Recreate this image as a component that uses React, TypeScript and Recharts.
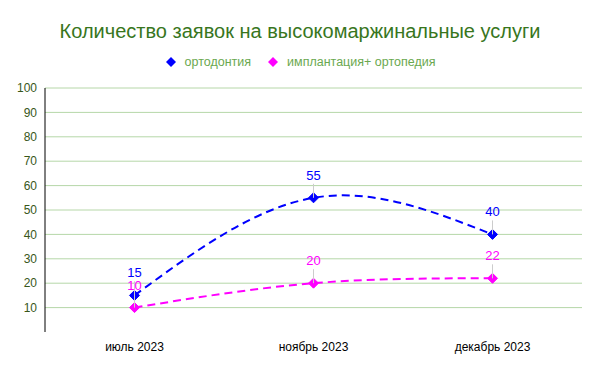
import React from "react";
import { LineChart, Line, XAxis, YAxis, CartesianGrid, LabelList } from "recharts";

const categories = ["июль 2023", "ноябрь 2023", "декабрь 2023"];
const orthodontics = [15, 55, 40];
const implantation = [10, 20, 22];
const yTicks = [10, 20, 30, 40, 50, 60, 70, 80, 90, 100];

const data = categories.map((c, i) => ({
  month: c,
  ortho: orthodontics[i],
  impl: implantation[i],
}));

const BLUE = "#0000ff";
const PINK = "#ff00ff";
const FONT = "'Liberation Sans', Arial, sans-serif";

const Diamond = (color: string) => (props: any) => {
  const { cx, cy } = props;
  if (cx == null || cy == null) return null;
  const r = 5;
  return (
    <polygon
      key={`d-${cx}-${cy}`}
      points={`${cx},${cy - r} ${cx + r},${cy} ${cx},${cy + r} ${cx - r},${cy}`}
      fill={color}
      stroke={color}
    />
  );
};

const PointLabel = (color: string) => (props: any) => {
  const { x, y, value } = props;
  return (
    <g>
      <line x1={x} y1={y - 14} x2={x} y2={y} stroke="#cccccc" strokeWidth={1} />
      <text
        x={x}
        y={y - 18}
        textAnchor="middle"
        fill={color}
        fontSize={13}
        fontFamily={FONT}
      >
        {value}
      </text>
    </g>
  );
};

const LegendItem = ({ color, label }: { color: string; label: string }) => (
  <span style={{ display: "inline-flex", alignItems: "center", margin: "0 8px" }}>
    <svg width={12} height={12} style={{ marginRight: 8 }}>
      <polygon points="6,1 11,6 6,11 1,6" fill={color} />
    </svg>
    <span>{label}</span>
  </span>
);

export default function App() {
  return (
    <div
      style={{
        position: "absolute",
        left: 0,
        top: 0,
        width: 600,
        height: 371,
        background: "#fff",
        fontFamily: FONT,
      }}
    >
      <div
        style={{
          position: "absolute",
          top: 20,
          left: 0,
          width: 600,
          textAlign: "center",
          fontSize: 20,
          color: "#38761d",
        }}
      >
        Количество заявок на высокомаржинальные услуги
      </div>
      <div
        style={{
          position: "absolute",
          top: 55,
          left: 0,
          width: 600,
          textAlign: "center",
          fontSize: 12.5,
          color: "#6aa84f",
          display: "flex",
          justifyContent: "center",
        }}
      >
        <LegendItem color={BLUE} label="ортодонтия" />
        <LegendItem color={PINK} label="имплантация+ ортопедия" />
      </div>
      <LineChart
        width={600}
        height={371}
        data={data}
        margin={{ top: 88, right: 18, bottom: 9, left: 5 }}
      >
        <CartesianGrid vertical={false} stroke="#b6d7a8" horizontalValues={yTicks} />
        <XAxis
          dataKey="month"
          scale="band"
          axisLine={false}
          tickLine={false}
          height={30}
          tick={{ fill: "#000", fontSize: 12, fontFamily: FONT }}
          tickMargin={4}
        />
        <YAxis
          domain={[0, 100]}
          ticks={yTicks}
          width={40}
          axisLine={{ stroke: "#000", strokeWidth: 1 }}
          tickLine={false}
          interval={0}
          tick={{ fill: "#38571a", fontSize: 12, fontFamily: FONT }}
          tickMargin={2}
        />
        <Line
          dataKey="ortho"
          type="natural"
          stroke={BLUE}
          strokeWidth={2}
          strokeDasharray="8 5"
          dot={Diamond(BLUE)}
          activeDot={false}
          isAnimationActive={false}
        >
          <LabelList dataKey="ortho" content={PointLabel(BLUE)} />
        </Line>
        <Line
          dataKey="impl"
          type="natural"
          stroke={PINK}
          strokeWidth={2}
          strokeDasharray="8 5"
          dot={Diamond(PINK)}
          activeDot={false}
          isAnimationActive={false}
        >
          <LabelList dataKey="impl" content={PointLabel(PINK)} />
        </Line>
      </LineChart>
    </div>
  );
}
